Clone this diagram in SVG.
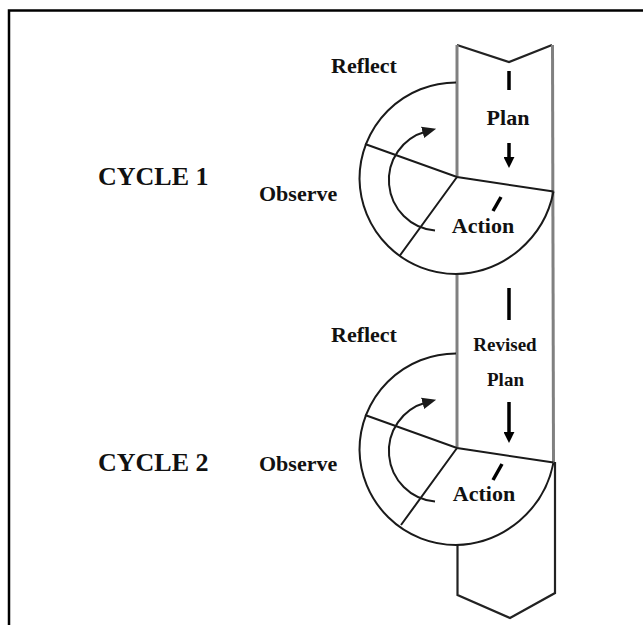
<svg xmlns="http://www.w3.org/2000/svg" width="643" height="625" viewBox="0 0 643 625">
  <style>
    .frame { fill: none; stroke: #000; stroke-width: 2.5; }
    .col { fill: none; stroke: #808080; stroke-width: 3; }
    .edge { fill: none; stroke: #222; stroke-width: 2.2; stroke-linejoin: miter; }
    .ring { fill: none; stroke: #1a1a1a; stroke-width: 2; }
    .div { fill: none; stroke: #1a1a1a; stroke-width: 2; }
    .curv { fill: none; stroke: #1a1a1a; stroke-width: 2; }
    .dash { stroke: #000; stroke-width: 3.5; }
    .shaft { stroke: #000; stroke-width: 3.5; }
    .lbl { font-family: "Liberation Serif", "Times New Roman", serif; font-weight: bold; fill: #111; }
    .big { font-size: 26px; }
    .mid { font-size: 22px; }
    .sm { font-size: 19px; }
  </style>
  <defs>
    <marker id="curvHead" markerUnits="userSpaceOnUse" markerWidth="14" markerHeight="14" viewBox="0 0 12 12" refX="3" refY="6" orient="auto">
      <path d="M0,1 L12,6 L0,11 z" fill="#1a1a1a"/>
    </marker>
    <marker id="downHead" markerUnits="userSpaceOnUse" markerWidth="11" markerHeight="11" viewBox="0 0 10 10" refX="1" refY="5" orient="auto">
      <path d="M0,0 L10,5 L0,10 z" fill="#000"/>
    </marker>
  </defs>

  <rect width="643" height="625" fill="#fff"/>

  <!-- outer frame (top and left sides visible) -->
  <g id="frame">
    <path class="frame" d="M9 625 L9 10.5 L643 10.5"/>
  </g>

  <!-- the vertical plan/action column -->
  <g id="column">
    <path class="edge" d="M457 45 L509 62 L552 45"/>
    <line class="col" x1="457" y1="45" x2="457" y2="177"/>
    <line class="col" x1="552.5" y1="45" x2="553.5" y2="462"/>
    <line class="col" x1="457" y1="273" x2="457" y2="448"/>
    <path class="edge" d="M555 462 L555 593 L510 618 L457.5 595 L457.5 544"/>
  </g>

  <!-- cycle 1 -->
  <g id="cycle1">
    <path class="ring" d="M456 82.5 A96.5 96.5 0 0 0 359.5 179 A96.5 96.5 0 0 0 456 274 A102 102 0 0 0 553.5 191.5"/>
    <path class="div" d="M365 144 L457 177 L553.5 191.5 M457 177 L399.5 256"/>
  </g>

  <!-- cycle 2 -->
  <g id="cycle2">
    <path class="ring" d="M456 353.5 A96.5 96.5 0 0 0 359.5 450 A96.5 96.5 0 0 0 456 545 A102 102 0 0 0 553.5 462.5"/>
    <path class="div" d="M365 415 L457 448 L553.5 462.5 M457 448 L401 525"/>
  </g>

  <g id="label-cycle1"><text class="lbl big" x="98" y="185">CYCLE 1</text></g>
  <g id="label-cycle2"><text class="lbl big" x="98" y="471">CYCLE 2</text></g>

  <g id="node-reflect1"><text class="lbl mid" x="331" y="73">Reflect</text></g>
  <g id="node-plan1"><text class="lbl mid" x="508" y="125" text-anchor="middle">Plan</text></g>
  <g id="node-observe1"><text class="lbl mid" x="259" y="201">Observe</text></g>
  <g id="node-action1"><text class="lbl mid" x="483" y="233" text-anchor="middle">Action</text></g>

  <g id="node-reflect2"><text class="lbl mid" x="331" y="342">Reflect</text></g>
  <g id="node-revised-plan">
    <text class="lbl sm" x="505" y="351" text-anchor="middle">Revised</text>
    <text class="lbl sm" x="505.5" y="386" text-anchor="middle">Plan</text>
  </g>
  <g id="node-observe2"><text class="lbl mid" x="259" y="471">Observe</text></g>
  <g id="node-action2"><text class="lbl mid" x="484" y="501" text-anchor="middle">Action</text></g>

  <!-- connectors -->
  <g id="connectors">
    <line class="dash" x1="509" y1="71" x2="509" y2="90"/>
    <line class="shaft" x1="509" y1="143" x2="509" y2="158" marker-end="url(#downHead)"/>
    <line class="dash" x1="493" y1="211" x2="501" y2="197"/>
    <path class="curv" d="M435 230.5 A50.5 50.5 0 0 1 426 131.5" marker-end="url(#curvHead)"/>

    <line class="dash" x1="509" y1="288" x2="509" y2="320"/>
    <line class="shaft" x1="509" y1="402" x2="509" y2="433" marker-end="url(#downHead)"/>
    <line class="dash" x1="493" y1="480" x2="502" y2="464"/>
    <path class="curv" d="M435 501.5 A50.5 50.5 0 0 1 426 402.5" marker-end="url(#curvHead)"/>
  </g>
</svg>
